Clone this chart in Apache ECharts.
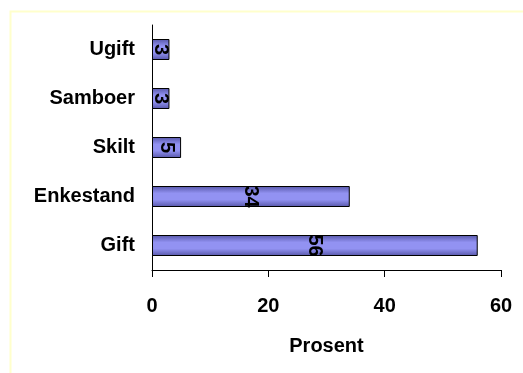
<!DOCTYPE html>
<html>
<head>
<meta charset="utf-8">
<script src="https://cdn.jsdelivr.net/npm/echarts@6/dist/echarts.min.js"></script>
<style>
  html, body { margin: 0; padding: 0; background: #ffffff; }
  #chart { width: 523px; height: 373px; }
</style>
</head>
<body>
<div id="chart"></div>
<script>
// Sivilstand, prosent (bottom-to-top order on the category axis)
const categories = ['Gift', 'Enkestand', 'Skilt', 'Samboer', 'Ugift'];
const values = [56, 34, 5, 3, 3];
const xTicks = { min: 0, max: 60, interval: 20 };
const axisTitle = 'Prosent';

const FONT = 'Liberation Sans, Arial, sans-serif';
const chart = echarts.init(document.getElementById('chart'), null, { renderer: 'canvas' });

const barFill = new echarts.graphic.LinearGradient(0, 0, 0, 1, [
  { offset: 0, color: '#5656a8' },
  { offset: 0.35, color: '#9292f2' },
  { offset: 0.65, color: '#9292f2' },
  { offset: 1, color: '#5656a8' }
]);

chart.setOption({
  animation: false,
  backgroundColor: '#ffffff',
  graphic: [{
    type: 'rect',
    silent: true,
    shape: { x: 10.5, y: 11.5, width: 700, height: 700 },
    style: { fill: 'none', stroke: '#ffffcc', lineWidth: 2 }
  }],
  grid: { left: 152, right: 22, top: 25, bottom: 103, containLabel: false },
  xAxis: {
    type: 'value',
    min: xTicks.min,
    max: xTicks.max,
    interval: xTicks.interval,
    name: axisTitle,
    nameLocation: 'middle',
    nameGap: 66,
    nameTextStyle: { fontFamily: FONT, fontWeight: 'bold', fontSize: 20, color: '#000' },
    axisLine: { show: true, lineStyle: { color: '#000', width: 1 } },
    axisTick: { show: true, inside: false, length: 7, lineStyle: { color: '#000' } },
    axisLabel: { margin: 26, fontFamily: FONT, fontWeight: 'bold', fontSize: 20, color: '#000' },
    splitLine: { show: false }
  },
  yAxis: {
    type: 'category',
    data: categories,
    axisLine: { show: true, lineStyle: { color: '#000', width: 1 } },
    axisTick: { show: false },
    axisLabel: { margin: 17, fontFamily: FONT, fontWeight: 'bold', fontSize: 20, color: '#000' },
    splitLine: { show: false }
  },
  series: [{
    type: 'bar',
    data: values,
    barWidth: 21,
    itemStyle: { color: barFill, borderColor: '#000', borderWidth: 1 },
    label: {
      show: true,
      position: 'inside',
      rotate: -90,
      fontFamily: FONT,
      fontWeight: 'bold',
      fontSize: 20,
      color: '#000'
    }
  }]
});
</script>
</body>
</html>
